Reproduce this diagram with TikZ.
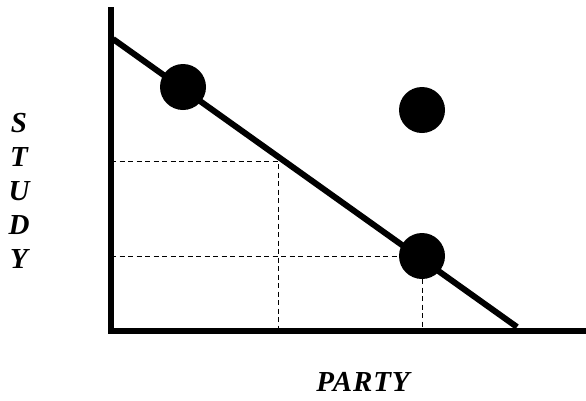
\documentclass[tikz,border=0pt]{standalone}
\usepackage{fontspec}
\setmainfont{Liberation Serif}
\usetikzlibrary{positioning}
\tikzset{
  axisline/.style={line width=5.5pt, line join=miter},
  trendline/.style={line width=6pt},
  guide/.style={line width=1pt, dash pattern=on 5pt off 3.5pt},
  dot/.style={circle, fill=black, minimum size=46pt, inner sep=0pt},
  axislabel/.style={font=\fontsize{29}{34}\selectfont\bfseries\itshape\addfontfeatures{LetterSpace=3}, align=center, inner sep=0pt}
}
\begin{document}
\begin{tikzpicture}[x=1pt, y=-1pt]
\useasboundingbox (0,0) rectangle (586,400);
% axes corners
\coordinate (origin) at (111,331);
\coordinate (ytop) at (111,7);
\coordinate (xend) at (586,331);
% budget line
\coordinate (lineA) at (113,39);
\coordinate (lineB) at (517,327);
\coordinate (g1) at (278.5,161.5);
% dots
\node[dot] (p1) at (183,87) {};
\node[dot] (p2) at (422,110) {};
\node[dot] (p3) at (422,256) {};
% guides
\draw[guide] (g1 -| origin) -- (g1) -- (g1 |- origin);
\draw[guide] (p3 -| origin) -- (p3);
\draw[guide] (p3) -- (p3 |- origin);
\draw[trendline] (lineA) -- (lineB);
\draw[axisline] (ytop) -- (origin) -- (xend);
% labels
\node[axislabel] (ylab) at (19,191) {S\\T\\U\\D\\Y};
\node[axislabel] (xlab) at (363,382) {PARTY};
\end{tikzpicture}
\end{document}
